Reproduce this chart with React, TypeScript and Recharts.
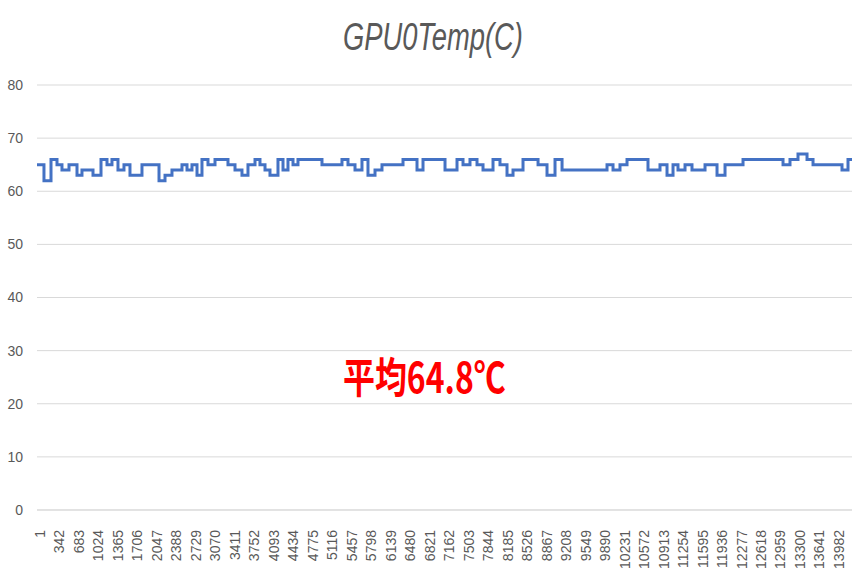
import { LineChart, Line, XAxis, YAxis, CartesianGrid } from "recharts";

// sample index where the reading changes, and the reading from there on
const changeAt = [
  1, 123, 246, 351, 438, 561, 701, 788, 981, 1121, 1226, 1313, 1418, 1523, 1628, 1838,
  2136, 2241, 2363, 2538, 2626, 2713, 2801, 2888, 2993, 3116, 3343, 3466, 3588, 3693,
  3816, 3903, 3991, 4078, 4218, 4306, 4393, 4481, 4568, 4988, 5338, 5443, 5566, 5688,
  5793, 5916, 6038, 6406, 6651, 6756, 7141, 7351, 7456, 7578, 7701, 7806, 7981, 8103,
  8226, 8331, 8506, 8769, 8926, 9066, 9189, 9976, 10081, 10203, 10326, 10693, 10903,
  11026, 11131, 11218, 11341, 11463, 11691, 11901, 12041, 12356, 13056, 13178, 13318,
  13476, 13581, 14088, 14193, 14263,
];
const temps = [
  65, 62, 66, 65, 64, 65, 63, 64, 63, 66, 65, 66, 64, 65, 63, 65,
  62, 63, 64, 65, 64, 65, 63, 66, 65, 66, 65, 64, 63, 65,
  66, 65, 64, 63, 66, 64, 66, 65, 66, 65, 66, 65, 64, 66,
  63, 64, 65, 66, 64, 66, 64, 66, 65, 66, 65, 64, 66, 65,
  63, 64, 66, 65, 63, 66, 64, 65, 64, 65, 66, 64, 65,
  63, 65, 64, 65, 64, 65, 63, 65, 66, 65, 66, 67,
  66, 65, 64, 66, 66,
];
const xTicks = [
  1, 342, 683, 1024, 1365, 1706, 2047, 2388, 2729, 3070, 3411, 3752, 4093, 4434,
  4775, 5116, 5457, 5798, 6139, 6480, 6821, 7162, 7503, 7844, 8185, 8526, 8867,
  9208, 9549, 9890, 10231, 10572, 10913, 11254, 11595, 11936, 12277, 12618, 12959,
  13300, 13641, 13982,
];
const yTicks = [0, 10, 20, 30, 40, 50, 60, 70, 80];

const data = changeAt.map((n, i) => ({ n, temp: temps[i] }));

const RotTick = (props: any) => {
  const { x, y, payload } = props;
  return (
    <text
      transform={`translate(${x + 3},${y + 12}) rotate(-90)`}
      textAnchor="end"
      dominantBaseline="central"
      fontSize={14}
      fontFamily="Liberation Sans, Arial, sans-serif"
      fill="#595959"
    >
      {payload.value}
    </text>
  );
};

export default function App() {
  return (
    <div style={{ position: "absolute", left: 0, top: 0, width: 866, height: 569, background: "#fff" }}>
      <LineChart width={866} height={569} data={data} margin={{ top: 85, right: 14, left: 0, bottom: 0 }}>
        <CartesianGrid stroke="#d9d9d9" vertical={false} />
        <XAxis
          dataKey="n"
          type="number"
          domain={[1, 14263]}
          ticks={xTicks}
          interval={0}
          height={59}
          tick={<RotTick />}
          tickLine={false}
          axisLine={{ stroke: "#d9d9d9" }}
        />
        <YAxis
          domain={[0, 80]}
          ticks={yTicks}
          width={37}
          tickSize={0}
          tickMargin={14}
          axisLine={false}
          tickLine={false}
          tick={{ fontSize: 14, fill: "#595959", fontFamily: "Liberation Sans, Arial, sans-serif" }}
        />
        <Line
          type="stepAfter"
          dataKey="temp"
          stroke="#4472C4"
          strokeWidth={3}
          dot={false}
          isAnimationActive={false}
        />
      </LineChart>
      <div
        style={{
          position: "absolute",
          left: 0,
          width: 866,
          top: 14,
          textAlign: "center",
          lineHeight: "46px",
        }}
      >
        <span
          style={{
            display: "inline-block",
            position: "relative",
            left: 0,
            fontFamily: "'Liberation Sans', sans-serif",
            fontStyle: "italic",
            fontSize: 38,
            color: "#595959",
            transform: "scaleX(0.72)",
            transformOrigin: "center",
          }}
        >
          GPU0Temp(C)
        </span>
      </div>
      <div
        style={{
          position: "absolute",
          left: 343,
          top: 348,
          fontFamily: "'Noto Sans CJK JP', sans-serif",
          fontWeight: 700,
          fontSize: 42,
          color: "#ff0000",
          lineHeight: "54px",
          whiteSpace: "nowrap",
          transform: "scaleX(0.76)",
          transformOrigin: "left center",
        }}
      >
        平均64.8℃
      </div>
    </div>
  );
}
